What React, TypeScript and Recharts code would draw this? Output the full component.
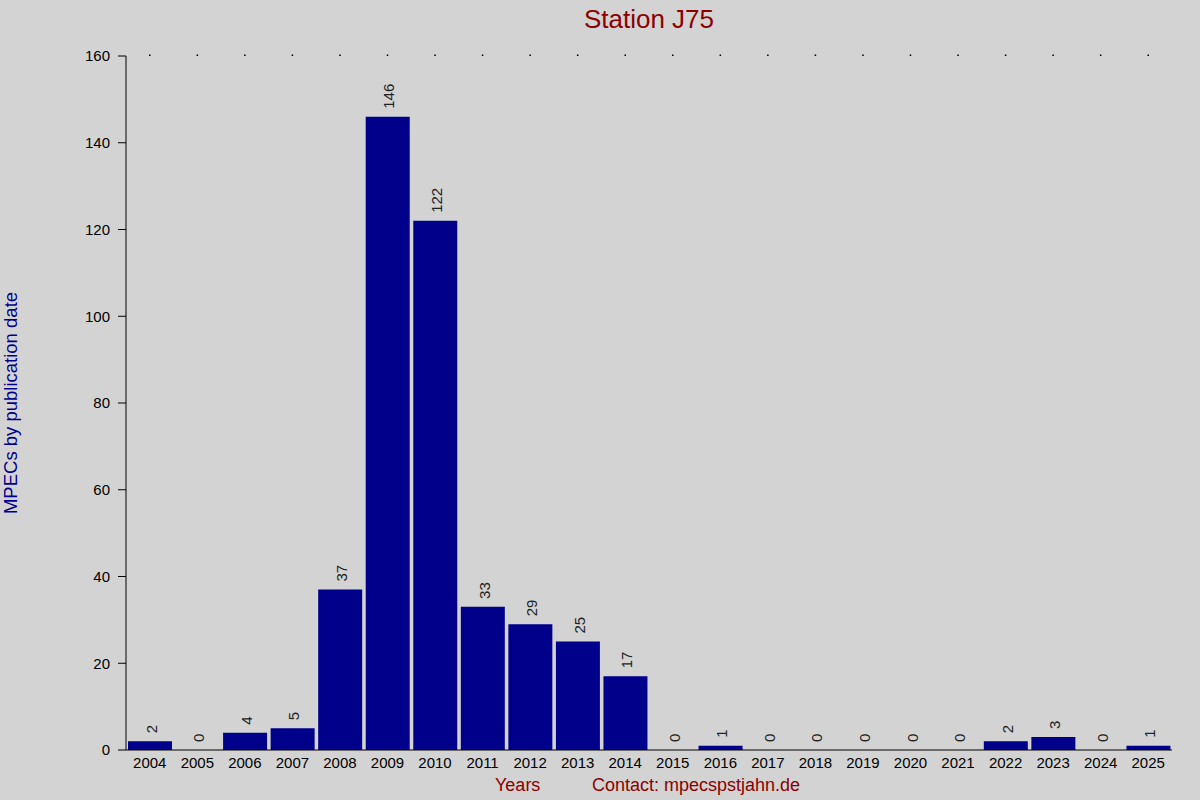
import { ComposedChart, Bar, Line, XAxis, YAxis, LabelList } from "recharts";

const years = [
  "2004", "2005", "2006", "2007", "2008", "2009", "2010", "2011", "2012", "2013", "2014",
  "2015", "2016", "2017", "2018", "2019", "2020", "2021", "2022", "2023", "2024", "2025",
];
const mpecs = [2, 0, 4, 5, 37, 146, 122, 33, 29, 25, 17, 0, 1, 0, 0, 0, 0, 0, 2, 3, 0, 1];
const yTicks = [0, 20, 40, 60, 80, 100, 120, 140, 160];

const data = years.map((year, i) => ({ year, count: mpecs[i] }));

const FONT = "'Liberation Sans', Arial, sans-serif";
const BG = "#d3d3d3";
const BAR = "#00008b";
const RED = "#8b0000";

// rotated value label above each bar (drawn from an invisible line so zeros get one too)
const BarValue = (props: any) => {
  const { x, y, value } = props;
  const cx = Number(x) + 7;
  const cy = Number(y) - 8;
  return (
    <text
      x={cx}
      y={cy}
      transform={`rotate(-90, ${cx}, ${cy})`}
      textAnchor="start"
      fontSize={15}
      fontFamily={FONT}
      fill="#222"
    >
      {value}
    </text>
  );
};

// top axis: only a small dot over every category, no label
const TopDot = (props: any) => {
  const { x, y } = props;
  return <rect x={Number(x) - 0.75} y={Number(y) - 1.5} width={1.5} height={1.5} fill="#000" />;
};

const App = () => {
  return (
    <div style={{ position: "absolute", left: 0, top: 0, width: 1200, height: 800, background: BG }}>
      <ComposedChart
        width={1200}
        height={800}
        data={data}
        margin={{ top: 46, right: 28, bottom: 20, left: 0 }}
        barCategoryGap={2}
      >
        <XAxis
          xAxisId="top"
          dataKey="year"
          orientation="top"
          height={10}
          axisLine={false}
          tickLine={false}
          tickSize={0}
          tickMargin={0}
          tick={TopDot}
        />
        <XAxis
          dataKey="year"
          height={30}
          tickSize={0}
          tickMargin={7}
          stroke="#000"
          tick={{ fill: "#000", fontSize: 15, fontFamily: FONT }}
        />
        <YAxis
          width={126}
          domain={[0, 160]}
          ticks={yTicks}
          tickSize={8}
          tickMargin={8}
          stroke="#000"
          tick={{ fill: "#000", fontSize: 15, fontFamily: FONT }}
        />
        <Bar dataKey="count" fill={BAR} isAnimationActive={false} />
        <Line
          dataKey="count"
          stroke="none"
          dot={false}
          activeDot={false}
          isAnimationActive={false}
        >
          <LabelList dataKey="count" content={BarValue} />
        </Line>
        <text x={649} y={28} textAnchor="middle" fontSize={26} fontFamily={FONT} fill={RED}>
          Station J75
        </text>
        <text x={495} y={791} fontSize={18} fontFamily={FONT} fill={RED}>
          Years
        </text>
        <text x={592} y={791} fontSize={18} fontFamily={FONT} fill={RED}>
          Contact: mpecspstjahn.de
        </text>
        <text
          x={17}
          y={403}
          transform="rotate(-90, 17, 403)"
          textAnchor="middle"
          fontSize={18.5}
          fontFamily={FONT}
          fill={BAR}
        >
          MPECs by publication date
        </text>
      </ComposedChart>
    </div>
  );
};

export default App;
